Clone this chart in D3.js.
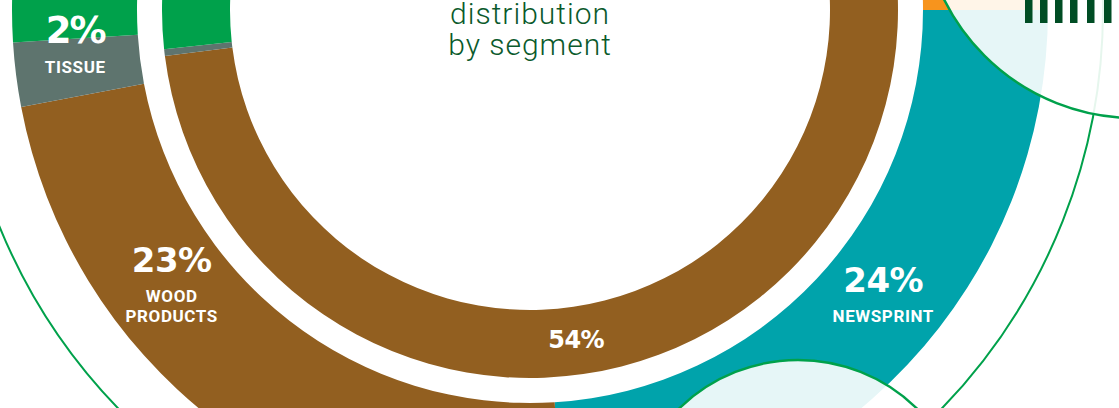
<!DOCTYPE html>
<html>
<head>
<meta charset="utf-8">
<script src="https://cdn.jsdelivr.net/npm/d3@7"></script>
<style>
  html, body { margin: 0; padding: 0; background: #fff; }
  svg { display: block; }
</style>
</head>
<body>
<div class="chart"></div>
<script>
// segments, clockwise from 12 o'clock (same order in both rings)
var segments = ['Specialty papers', 'Newsprint', 'Wood products', 'Tissue', 'Market pulp'];
var colors = ['#f7941d', '#00a3ab', '#925f20', '#5e746e', '#00a14b'];

// outer ring: sales distribution by segment (%)
var outerValues = [25, 24, 23, 2, 26];
// inner ring (%)
var innerValues = [9, 10, 54, 0.3, 26.7];

// labels shown on the picture
var outerLabels = [null, ['NEWSPRINT'], ['WOOD', 'PRODUCTS'], ['TISSUE'], null];
var innerLabels = [null, null, [], null, null];

var titleLines = ['distribution', 'by segment'];

(function() {

  var width = 1119, height = 408;
  var cx = 530, cy = 10;

  var svg = d3.select('.chart')
    .append('svg')
    .attr('width', width)
    .attr('height', height);

  var g = svg.append('g')
    .attr('transform', 'translate(' + cx + ',' + cy + ')');

  var pie = d3.pie().sort(null).value(function(d) { return d; });

  var outerArc = d3.arc().innerRadius(393).outerRadius(518);
  var innerArc = d3.arc().innerRadius(300).outerRadius(368);

  // thin green ring around everything
  g.append('circle')
    .attr('r', 573)
    .attr('fill', 'none')
    .attr('stroke', '#00a14b')
    .attr('stroke-width', 2);

  var outerData = pie(outerValues);
  var innerData = pie(innerValues);

  g.selectAll('path.outer').data(outerData).enter()
    .append('path')
    .attr('class', 'outer')
    .attr('d', outerArc)
    .attr('fill', function(d, i) { return colors[i]; });

  g.selectAll('path.inner').data(innerData).enter()
    .append('path')
    .attr('class', 'inner')
    .attr('d', innerArc)
    .attr('fill', function(d, i) { return colors[i]; });

  // where the % figure sits: angle in degrees (clockwise from top) and radius
  var outerLabelPos = [null, [128.6, 452], [233.8, 444], [265.85, 456], null];

  outerData.forEach(function(d, i) {
    if (!outerLabels[i]) return;
    var a = outerLabelPos[i][0] * Math.PI / 180, r = outerLabelPos[i][1];
    var x = r * Math.sin(a), y = -r * Math.cos(a);
    var t = g.append('g').attr('transform', 'translate(' + x + ',' + y + ')');
    t.append('text')
      .attr('text-anchor', 'middle')
      .attr('fill', '#fff')
      .attr('font-family', 'DejaVu Sans, sans-serif')
      .attr('font-weight', 700)
      .attr('font-size', i === 3 ? 37 : 34)
      .attr('letter-spacing', i === 3 ? -2 : -0.5)
      .text(Math.round(d.value) + '%');
    outerLabels[i].forEach(function(line, k) {
      t.append('text')
        .attr('y', 30 + k * 20)
        .attr('text-anchor', 'middle')
        .attr('fill', '#fff')
        .attr('font-family', 'Roboto, sans-serif')
        .attr('font-weight', 700)
        .attr('font-size', 17)
        .attr('letter-spacing', 0.6)
        .text(line);
    });
  });

  var innerLabelAngle = 172 * Math.PI / 180;
  innerData.forEach(function(d, i) {
    if (!innerLabels[i]) return;
    g.append('text')
      .attr('x', 332 * Math.sin(innerLabelAngle))
      .attr('y', -332 * Math.cos(innerLabelAngle) + 9)
      .attr('text-anchor', 'middle')
      .attr('fill', '#fff')
      .attr('font-family', 'DejaVu Sans, sans-serif')
      .attr('font-weight', 700)
      .attr('font-size', 24)
      .attr('letter-spacing', -0.5)
      .text(Math.round(d.value) + '%');
  });

  // translucent callout circles laid over the rings
  var callouts = [
    {x: 1135, y: -95, r: 213},
    {x: 798, y: 530, r: 170}
  ];
  svg.selectAll('circle.callout').data(callouts).enter()
    .append('circle')
    .attr('class', 'callout')
    .attr('cx', function(d) { return d.x; })
    .attr('cy', function(d) { return d.y; })
    .attr('r', function(d) { return d.r; })
    .attr('fill', '#fff')
    .attr('fill-opacity', 0.9)
    .attr('stroke', '#00a14b')
    .attr('stroke-width', 2.5);

  // dark bars peeking from the top callout
  var barX = [1025, 1040, 1055, 1070, 1087, 1104];
  svg.selectAll('rect.bar').data(barX).enter()
    .append('rect')
    .attr('class', 'bar')
    .attr('x', function(d) { return d; })
    .attr('y', 0)
    .attr('width', 7.5)
    .attr('height', 23)
    .attr('fill', '#004d24');

  // centre title
  g.selectAll('text.title').data(titleLines).enter()
    .append('text')
    .attr('class', 'title')
    .attr('x', 0)
    .attr('y', function(d, i) { return 14 + i * 31; })
    .attr('text-anchor', 'middle')
    .attr('fill', '#0b5a2c')
    .attr('font-family', 'Roboto, sans-serif')
    .attr('font-weight', 300)
    .attr('font-size', 30)
    .attr('letter-spacing', 1)
    .text(function(d) { return d; });

})();
</script>
</body>
</html>
